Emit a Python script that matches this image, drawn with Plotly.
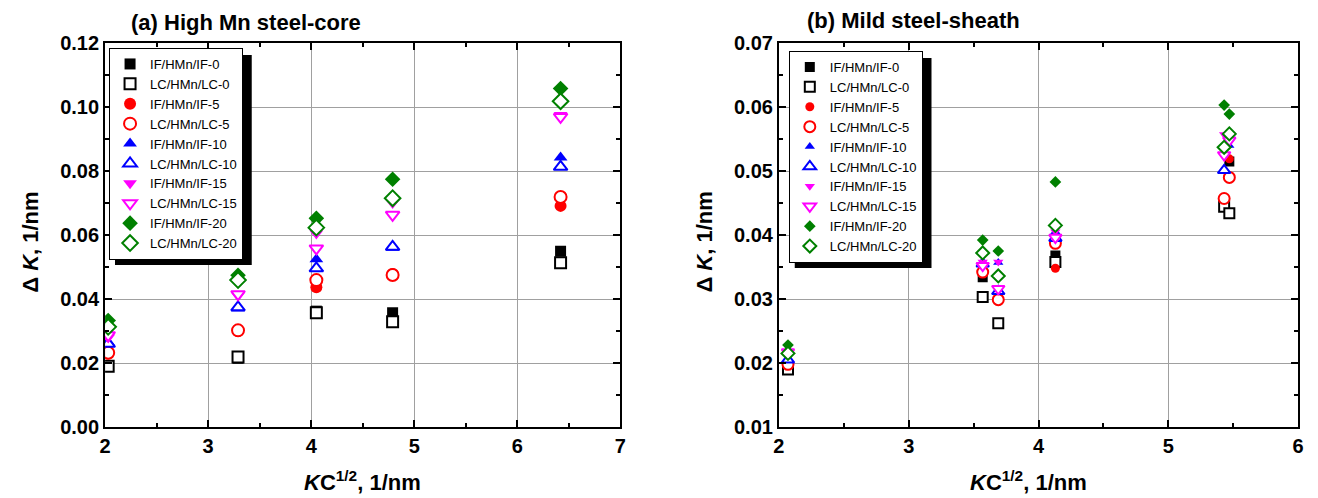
import plotly.graph_objects as go

# ---------------- data ----------------
series_names = ["IF/HMn/IF-0", "LC/HMn/LC-0", "IF/HMn/IF-5", "LC/HMn/LC-5",
                "IF/HMn/IF-10", "LC/HMn/LC-10", "IF/HMn/IF-15", "LC/HMn/LC-15",
                "IF/HMn/IF-20", "LC/HMn/LC-20"]

# (a) High Mn steel-core
kc_a = [2.03, 3.29, 4.05, 4.79, 6.42]
dk_a = {
    "IF/HMn/IF-0":   [0.0190, 0.0215, 0.0362, 0.0357, 0.0549],
    "LC/HMn/LC-0":   [0.0190, 0.0219, 0.0357, 0.0329, 0.0513],
    "IF/HMn/IF-5":   [0.0230, 0.0300, 0.0437, 0.0478, 0.0691],
    "LC/HMn/LC-5":   [0.0232, 0.0302, 0.0459, 0.0475, 0.0719],
    "IF/HMn/IF-10":  [0.0265, 0.0370, 0.0524, 0.0560, 0.0842],
    "LC/HMn/LC-10":  [0.0260, 0.0374, 0.0496, 0.0563, 0.0813],
    "IF/HMn/IF-15":  [0.0280, 0.0410, 0.0605, 0.0700, 0.0975],
    "LC/HMn/LC-15":  [0.0287, 0.0415, 0.0558, 0.0663, 0.0969],
    "IF/HMn/IF-20":  [0.0333, 0.0474, 0.0652, 0.0774, 0.1058],
    "LC/HMn/LC-20":  [0.0313, 0.0459, 0.0623, 0.0715, 0.1018],
}

# (b) Mild steel-sheath
kc_b = [2.07, 3.57, 3.69, 4.13, 5.43, 5.47]
dk_b = {
    "IF/HMn/IF-0":   [0.0190, 0.0334, None,   0.0368, None,   0.0515],
    "LC/HMn/LC-0":   [0.0190, 0.0303, 0.0262, 0.0358, 0.0444, 0.0434],
    "IF/HMn/IF-5":   [0.0198, 0.0340, None,   0.0348, None,   0.0519],
    "LC/HMn/LC-5":   [0.0198, 0.0342, 0.0299, 0.0387, 0.0457, 0.0490],
    "IF/HMn/IF-10":  [0.0205, 0.0358, 0.0357, 0.0405, None,   0.0540],
    "LC/HMn/LC-10":  [0.0205, 0.0355, 0.0312, 0.0395, 0.0501, None],
    "IF/HMn/IF-15":  [0.0217, 0.0358, 0.0358, 0.0405, 0.0557, 0.0545],
    "LC/HMn/LC-15":  [0.0217, 0.0352, 0.0316, 0.0396, 0.0525, 0.0548],
    "IF/HMn/IF-20":  [0.0228, 0.0392, 0.0375, 0.0483, 0.0603, 0.0589],
    "LC/HMn/LC-20":  [0.0215, 0.0372, 0.0336, 0.0415, 0.0537, 0.0558],
}

x_ticks_a = [2, 3, 4, 5, 6, 7]
y_ticks_a = [0.00, 0.02, 0.04, 0.06, 0.08, 0.10, 0.12]
x_ticks_b = [2, 3, 4, 5, 6]
y_ticks_b = [0.01, 0.02, 0.03, 0.04, 0.05, 0.06, 0.07]

# ---------------- styles ----------------
colors = ["#000000", "#000000", "#FF0000", "#FF0000", "#0000FF", "#0000FF",
          "#FF00FF", "#FF00FF", "#008000", "#008000"]
symbols = ["square", "square", "circle", "circle", "triangle-up", "triangle-up",
           "triangle-down", "triangle-down", "diamond", "diamond"]
sizes_a = [11, 11, 12, 12, 12, 12, 12, 12, 12, 12]
sizes_b = [10, 10, 9, 11, 9, 11, 9, 11, 9, 10]

fig = go.Figure()

for i, name in enumerate(series_names):
    filled = (i % 2 == 0)
    for (xs, ys, sz, xa, ya, lg) in [
            (kc_a, dk_a[name], sizes_a[i], "x", "y", "legend"),
            (kc_b, dk_b[name], sizes_b[i], "x2", "y2", "legend2")]:
        fig.add_trace(go.Scatter(
            x=xs, y=ys, mode="markers", name=name,
            xaxis=xa, yaxis=ya, legend=lg,
            marker=dict(symbol=symbols[i], size=sz,
                        color=colors[i] if filled else "white",
                        line=dict(color=colors[i], width=0 if filled else 2)),
        ))

W, H = 1318, 498
L_A, R_A = 100, 620
L_B, R_B = 780, 1304
TOP, BOT = 43, 427

def px_x(p):
    return p / W

def px_y(p):
    return (BOT - p) / (BOT - TOP)

tickfont = dict(family="Arial, Liberation Sans", size=20, color="black", weight="bold")

def xaxis_cfg(domain, rng, ticks, anchor):
    return dict(domain=domain, range=rng, tickvals=ticks, ticktext=[str(t) for t in ticks],
                showline=True, linecolor="black", linewidth=2, mirror="ticks",
                ticks="inside", ticklen=7, tickwidth=1.5, tickcolor="black",
                showgrid=True, gridcolor="#a0a0a0", gridwidth=1, zeroline=False,
                tickfont=tickfont, anchor=anchor,
                minor=dict(ticks="inside", ticklen=4, tickwidth=1.5, tickcolor="black",
                           dtick=0.5, showgrid=False))

def yaxis_cfg(rng, ticks, anchor, minor_dt):
    return dict(domain=[0, 1], range=rng, tickvals=ticks, ticktext=[f"{t:.2f}" for t in ticks],
                showline=True, linecolor="black", linewidth=2, mirror="ticks",
                ticks="inside", ticklen=7, tickwidth=1.5, tickcolor="black",
                showgrid=True, gridcolor="#a0a0a0", gridwidth=1, zeroline=False,
                tickfont=tickfont, anchor=anchor,
                minor=dict(ticks="inside", ticklen=4, tickwidth=1.5, tickcolor="black",
                           dtick=minor_dt, showgrid=False))

legfont = dict(family="Arial, Liberation Sans", size=13, color="black")

LEG_A = (104, 48)
LEG_B = (790, 51)
LEG_W, LEG_H = 138, 210

fig.update_layout(
    width=W, height=H,
    margin=dict(l=0, r=0, t=TOP, b=H - BOT),
    paper_bgcolor="white", plot_bgcolor="white",
    xaxis=xaxis_cfg([px_x(L_A), px_x(R_A)], [2, 7], x_ticks_a, "y"),
    yaxis=yaxis_cfg([0, 0.12], y_ticks_a, "x", 0.01),
    xaxis2=xaxis_cfg([px_x(L_B), px_x(R_B)], [2, 6], x_ticks_b, "y2"),
    yaxis2=yaxis_cfg([0.01, 0.07], y_ticks_b, "x2", 0.005),
    legend=dict(x=px_x(LEG_A[0]), y=px_y(LEG_A[1]), xanchor="left", yanchor="top",
                bgcolor="white", bordercolor="black", borderwidth=1,
                font=legfont, tracegroupgap=0, itemwidth=30),
    legend2=dict(x=px_x(LEG_B[0]), y=px_y(LEG_B[1]), xanchor="left", yanchor="top",
                 bgcolor="white", bordercolor="black", borderwidth=1,
                 font=legfont, tracegroupgap=0, itemwidth=30),
    showlegend=True,
)

# legend drop shadows
for (lx, ty) in [LEG_A, LEG_B]:
    fig.add_shape(type="rect", xref="paper", yref="paper",
                  x0=px_x(lx + 6), x1=px_x(lx + LEG_W + 6),
                  y0=px_y(ty + LEG_H + 7), y1=px_y(ty + 7),
                  fillcolor="black", line=dict(width=0), layer="above")

title_font = dict(family="Arial, Liberation Sans", size=22, color="black", weight="bold")
fig.add_annotation(text="(a) High Mn steel-core", x=px_x(124), y=px_y(22),
                   xref="paper", yref="paper", xanchor="left", yanchor="middle",
                   showarrow=False, font=title_font)
fig.add_annotation(text="(b) Mild steel-sheath", x=px_x(806), y=px_y(21),
                   xref="paper", yref="paper", xanchor="left", yanchor="middle",
                   showarrow=False, font=title_font)

ax_font = dict(family="Arial, Liberation Sans", size=22, color="black", weight="bold")
for cx in [(L_A + R_A) / 2, (L_B + R_B) / 2 - 10]:
    fig.add_annotation(text="<i>K</i>C<sup>1/2</sup>, 1/nm", x=px_x(cx), y=px_y(481),
                       xref="paper", yref="paper", xanchor="center", yanchor="middle",
                       showarrow=False, font=ax_font)
for cx in [24, 704]:
    fig.add_annotation(text="\u0394 <i>K</i>, 1/nm", x=px_x(cx), y=px_y(242),
                       xref="paper", yref="paper", xanchor="center", yanchor="middle",
                       textangle=-90, showarrow=False, font=ax_font)

fig.write_html("out.html")
